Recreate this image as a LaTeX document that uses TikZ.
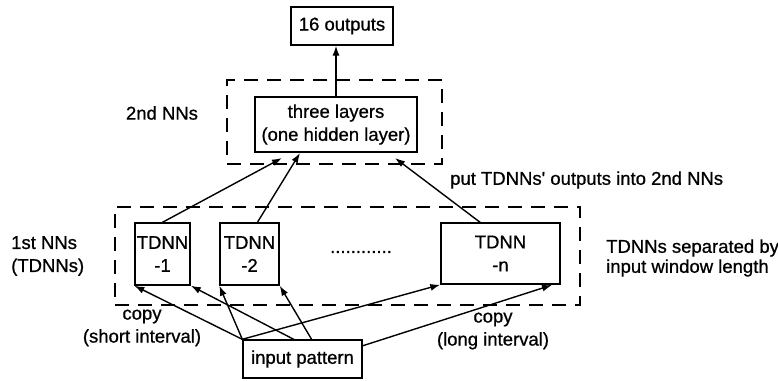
\documentclass[tikz,border=0pt]{standalone}
\usepackage{fontspec}
\setmainfont{Liberation Sans}[BoldFont=Liberation Sans,BoldFeatures={FakeBold=0.8}]
\usetikzlibrary{arrows.meta,calc}
\begin{document}
\begin{tikzpicture}[x=1pt,y=-1pt,
  box/.style={draw,line width=1.4pt,inner sep=0pt,align=center,font=\fontsize{18.5}{23}\selectfont\bfseries},
  lbl/.style={inner sep=0pt,font=\fontsize{18.5}{23}\selectfont\bfseries},
  grp/.style={draw,line width=1.9pt,dash pattern=on 14pt off 9pt,inner sep=0pt},
  arr/.style={line width=1.4pt,-{Latex[length=10pt,width=7pt]}}]
\useasboundingbox (0,0) rectangle (778,380);
% groups
\node[grp,minimum width=215pt,minimum height=84pt] (g2) at (334.5,122) {};
\node[grp,minimum width=465pt,minimum height=98pt] (g1) at (347.5,256) {};
% boxes
\node[box,minimum width=102pt,minimum height=38pt] (out) at (342,26) {16 outputs};
\node[box,minimum width=162pt,minimum height=55pt] (three) at (336,124.5) {three layers\\(one hidden layer)};
\node[box,minimum width=55pt,minimum height=62pt] (t1) at (162.5,254) {TDNN\\-1};
\node[box,minimum width=59pt,minimum height=62pt] (t2) at (249.5,254) {TDNN\\-2};
\node[box,minimum width=119pt,minimum height=61pt] (tn) at (500.5,253.5) {TDNN\\-n};
\node[box,minimum width=119pt,minimum height=38pt] (inp) at (302.5,359) {input pattern};
% labels
\node[lbl] (l2nd) at (162,113) {2nd NNs};
\node[lbl,align=left,anchor=west] (l1st) at (11,256) {1st NNs\\(TDNNs)};
\node[lbl,align=center] (lshort) at (142,328) {copy\\(short interval)};
\node[lbl,align=center] (llong) at (493,331) {copy\\(long interval)};
\node[lbl,align=left,anchor=west,font=\fontsize{18.5}{20}\selectfont\bfseries] (lsep) at (606,258) {TDNNs separated by\\input window length};
\node[lbl,anchor=west] (lput) at (450,180) {put TDNNs\textquotesingle\ outputs into 2nd NNs};
\node[lbl] (dots) at (361,252) {............};
% coordinates
\coordinate (a1) at (282,158);
\coordinate (a2) at (300,153);
\coordinate (a3) at (395,158);
\coordinate (s2) at (257,223);
\coordinate (s3) at (481,223);
\coordinate (p1) at (295,340);
\coordinate (p2) at (312,340);
\coordinate (p3) at (362,346);
\coordinate (en) at (552,285);
% arrows
\draw[arr] (three.north) -- (three.north |- out.south);
\draw[arr] (t1.north) -- (a1);
\draw[arr] (s2) -- (a2);
\draw[arr] (s3) -- (a3);
\draw[arr] (inp.north west) -- (t1.south west);
\draw[arr] (p1) -- (t1.south east);
\draw[arr] (inp.north west) -- (t2.south west);
\draw[arr] (p2) -- (t2.south east);
\draw[arr] (inp.north west) -- (tn.south west);
\draw[arr] (p3) -- (en);
\end{tikzpicture}
\end{document}
